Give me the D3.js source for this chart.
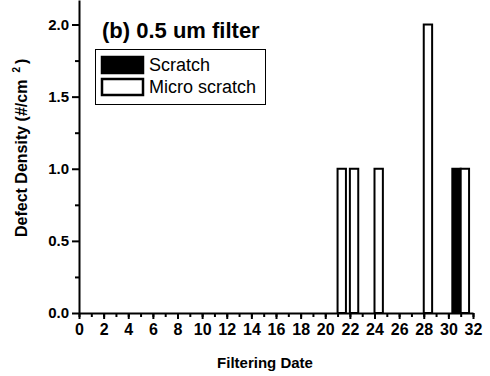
<!DOCTYPE html>
<html>
<head>
<meta charset="utf-8">
<script src="https://cdn.jsdelivr.net/npm/d3@7"></script>
<style>
  body { margin: 0; background: #fff; }
  svg { font-family: "Liberation Sans", Arial, sans-serif; }
  .tick text { font-weight: bold; fill: #000; }
  .axis path, .axis line { stroke: #000; stroke-width: 2; }
</style>
</head>
<body>
<div id="chart"></div>
<script>
// Data
const dates = [21, 22, 24, 28, 31];
const scratch = [0, 0, 0, 0, 1];
const microScratch = [1, 1, 1, 2, 1];
const seriesNames = ["Scratch", "Micro scratch"];
const xTickValues = d3.range(0, 33, 2);
const yTickValues = [0, 0.5, 1.0, 1.5, 2.0];

const dataset = dates.map((d, i) => ({
  date: d,
  values: [scratch[i], microScratch[i]],
}));

// Dimensions
const width = 490;
const height = 376;
const margin = { top: 0, right: 17, bottom: 63, left: 79 };
const boundedWidth = width - margin.left - margin.right;
const boundedHeight = height - margin.top - margin.bottom;

const svg = d3
  .select("#chart")
  .append("svg")
  .attr("width", width)
  .attr("height", height);
const bounds = svg
  .append("g")
  .attr("transform", `translate(${margin.left},${margin.top})`);

// Scales
const xScale = d3.scaleLinear().domain([0, 32]).range([0, 394]);
const yScale = d3.scaleLinear().domain([0, 2.17]).range([boundedHeight, 0]);
// offset of each series inside a date group, in date units
const subScale = d3.scaleBand().domain(seriesNames).range([-0.68, 0.68]);

// Bars
const groups = bounds
  .selectAll(".group")
  .data(dataset)
  .join("g")
  .attr("class", "group");
groups
  .selectAll("rect")
  .data((d) =>
    d.values
      .map((v, i) => ({ date: d.date, key: seriesNames[i], value: v }))
      .filter((e) => e.value > 0)
  )
  .join("rect")
  .attr("x", (d) => xScale(d.date + subScale(d.key)))
  .attr(
    "width",
    (d) =>
      xScale(d.date + subScale(d.key) + subScale.bandwidth()) -
      xScale(d.date + subScale(d.key))
  )
  .attr("y", (d) => yScale(d.value))
  .attr("height", (d) => yScale(0) - yScale(d.value))
  .attr("fill", (d) => (d.key === "Scratch" ? "#000" : "#fff"))
  .attr("stroke", "#000")
  .attr("stroke-width", 2);

// X axis: minor ticks then major ticks
bounds
  .append("g")
  .attr("class", "axis")
  .attr("transform", `translate(0,${boundedHeight})`)
  .call(d3.axisBottom(xScale).tickValues(d3.range(0, 33, 1)).tickSize(4).tickFormat(""))
  .call((g) => g.select(".domain").remove());
const xAxis = bounds
  .append("g")
  .attr("class", "axis")
  .attr("transform", `translate(0,${boundedHeight})`)
  .call(
    d3.axisBottom(xScale).tickValues(xTickValues).tickSize(6).tickSizeOuter(0).tickPadding(5)
  );
xAxis.selectAll(".tick text").style("font-size", "16px");

// Y axis
bounds
  .append("g")
  .attr("class", "axis")
  .call(d3.axisLeft(yScale).tickValues(d3.range(0.25, 2.1, 0.5)).tickSize(4).tickFormat(""))
  .call((g) => g.select(".domain").remove());
const yAxis = bounds
  .append("g")
  .attr("class", "axis")
  .call(
    d3
      .axisLeft(yScale)
      .tickValues(yTickValues)
      .tickSize(7)
      .tickSizeOuter(0)
      .tickPadding(3)
      .tickFormat(d3.format(".1f"))
  );
yAxis.selectAll(".tick text").style("font-size", "15px");

// Axis titles
svg
  .append("text")
  .attr("x", 265)
  .attr("y", 368)
  .attr("text-anchor", "middle")
  .style("font-size", "15px")
  .style("font-weight", "bold")
  .text("Filtering Date");

const yLabel = svg
  .append("text")
  .attr("transform", "translate(27,237) rotate(-90)")
  .style("font-size", "16px")
  .style("font-weight", "bold");
yLabel.append("tspan").text("Defect Density (#/cm");
yLabel.append("tspan").attr("dx", 7).attr("dy", -7).style("font-size", "10px").text("2");
yLabel.append("tspan").attr("dx", 3).attr("dy", 7).text(")");

// Title
svg
  .append("text")
  .attr("x", 102)
  .attr("y", 38)
  .style("font-size", "22px")
  .style("font-weight", "bold")
  .text("(b) 0.5 um filter");

// Legend
const legend = svg.append("g");
legend
  .append("rect")
  .attr("x", 95.5)
  .attr("y", 49.5)
  .attr("width", 170)
  .attr("height", 55)
  .attr("fill", "none")
  .attr("stroke", "#000")
  .attr("stroke-width", 1);
const legendItems = legend
  .selectAll(".item")
  .data(seriesNames)
  .join("g")
  .attr("transform", (d, i) => `translate(102,${57 + i * 22})`);
legendItems
  .append("rect")
  .attr("width", 41)
  .attr("height", 16)
  .attr("fill", (d) => (d === "Scratch" ? "#000" : "#fff"))
  .attr("stroke", "#000")
  .attr("stroke-width", 2.5);
legendItems
  .append("text")
  .attr("x", 47)
  .attr("y", 14)
  .style("font-size", "18px")
  .text((d) => d);
</script>
</body>
</html>
